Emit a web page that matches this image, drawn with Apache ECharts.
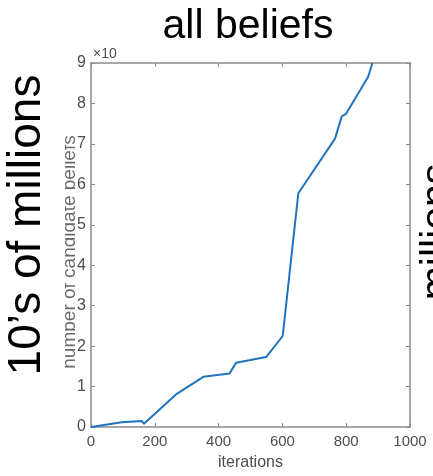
<!DOCTYPE html>
<html>
<head>
<meta charset="utf-8">
<script src="https://cdn.jsdelivr.net/npm/echarts@6/dist/echarts.min.js"></script>
<style>
  html, body { margin: 0; padding: 0; background: #fff; }
  #chart { width: 433px; height: 476px; }
</style>
</head>
<body>
<div id="chart"></div>
<script>
// Candidate-belief count (in units of 10 million) against iteration
const iterations = [0, 96, 159, 166, 269, 352, 434, 455, 549, 601, 650, 765, 786, 799, 869, 882];
const beliefs = [0, 0.12, 0.15, 0.08, 0.82, 1.24, 1.32, 1.59, 1.73, 2.25, 5.78, 7.13, 7.68, 7.74, 8.66, 9.0];
const xTicks = [0, 200, 400, 600, 800, 1000];
const yTicks = [0, 1, 2, 3, 4, 5, 6, 7, 8, 9];

const points = iterations.map((x, i) => [x, beliefs[i]]);
const axisGray = '#8a8a8a';
const labelGray = '#4d4d4d';
const font = 'Liberation Sans, Arial, sans-serif';

const chart = echarts.init(document.getElementById('chart'), null, { renderer: 'canvas' });

const baseAxis = {
  type: 'value',
  axisLine: { show: true, onZero: false, lineStyle: { color: axisGray, width: 1.5 } },
  axisTick: { show: true, inside: true, length: 4, lineStyle: { color: axisGray, width: 1 } },
  splitLine: { show: false }
};

chart.setOption({
  animation: false,
  backgroundColor: '#fff',
  grid: { left: 91, right: 23, top: 63, bottom: 46, containLabel: false },
  xAxis: [
    Object.assign({}, baseAxis, {
      position: 'bottom',
      min: xTicks[0], max: xTicks[xTicks.length - 1], interval: 200,
      axisLabel: { color: labelGray, fontSize: 15, fontFamily: font, margin: 7, formatter: v => String(v) },
      name: 'iterations', nameLocation: 'middle', nameGap: 28, nameMoveOverlap: false,
      nameTextStyle: { color: labelGray, fontSize: 16, fontFamily: font }
    }),
    Object.assign({}, baseAxis, {
      position: 'top',
      min: xTicks[0], max: xTicks[xTicks.length - 1], interval: 200,
      axisLabel: { show: false }
    })
  ],
  yAxis: [
    Object.assign({}, baseAxis, {
      position: 'left',
      min: yTicks[0], max: yTicks[yTicks.length - 1], interval: 1,
      axisLabel: { color: labelGray, fontSize: 16, fontFamily: font, margin: 5 },
      name: 'number of candidate beliefs', nameLocation: 'middle', nameGap: 12, nameMoveOverlap: false,
      nameTextStyle: { color: '#6a6a6a', fontSize: 19, fontFamily: font, padding: [0, 14, 0, 0] }
    }),
    Object.assign({}, baseAxis, {
      position: 'right',
      min: yTicks[0], max: yTicks[yTicks.length - 1], interval: 1,
      axisLabel: { show: false }
    })
  ],
  series: [{
    type: 'line',
    data: points,
    showSymbol: false,
    symbol: 'none',
    lineStyle: { color: '#1f74bd', width: 2 },
    clip: true
  }],
  graphic: [
    // exponent marker above the y axis
    { type: 'text', left: 93, top: 47, z: 10,
      style: { text: '×10', fill: labelGray, font: '14px ' + font } },
    // panel title
    { type: 'text', x: 248, y: 27, z: 10,
      style: { text: 'all beliefs', fill: '#000', font: '41px ' + font, align: 'center', verticalAlign: 'middle' } },
    // white band that hides part of the axis name
    { type: 'rect', z: 20, shape: { x: 0, y: 60, width: 65, height: 360 }, style: { fill: '#fff' } },
    // big side caption
    { type: 'text', x: 4, y: 225, rotation: Math.PI / 2, z: 30,
      style: { text: '10’s of millions', fill: '#000', font: '46px ' + font, align: 'center', verticalAlign: 'top' } },
    // neighbouring caption cut by the right edge
    { type: 'text', x: 417, y: 232, rotation: Math.PI / 2, z: 30,
      style: { text: 'millions', fill: '#000', font: '41px ' + font, align: 'center', verticalAlign: 'top' } }
  ]
});
</script>
</body>
</html>
